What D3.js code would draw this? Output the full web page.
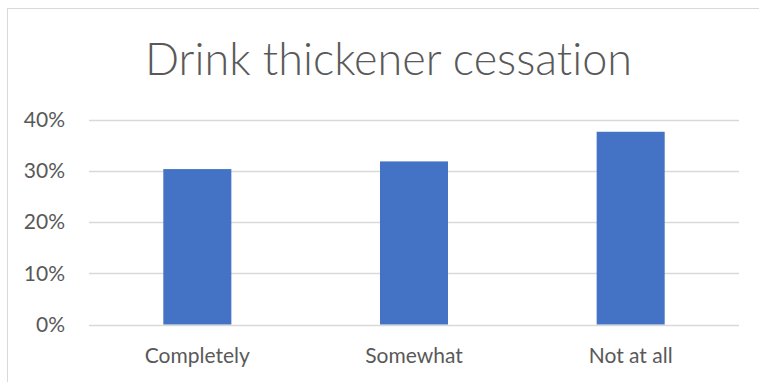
<!DOCTYPE html>
<html>
<head>
<meta charset="utf-8">
<script src="https://cdn.jsdelivr.net/npm/d3@7"></script>
<style>
  html, body { margin: 0; padding: 0; background: #fff; }
  svg { display: block; }
  text { font-family: "Lato", "Open Sans", sans-serif; fill: #595959; font-variant-ligatures: none; font-feature-settings: "liga" 0, "dlig" 0; }
</style>
</head>
<body>
<svg id="chart" width="759" height="382"></svg>
<script>
const categories = ["Completely", "Somewhat", "Not at all"];
const values = [0.304, 0.319, 0.377];
const yTicks = [0, 0.1, 0.2, 0.3, 0.4];
const title = "Drink thickener cessation";

const W = 759, H = 382;
const svg = d3.select("#chart");

// chart frame (extends past right and bottom edges)
svg.append("rect")
  .attr("x", 7.5).attr("y", 8.5)
  .attr("width", W).attr("height", H)
  .attr("fill", "#fff").attr("stroke", "#d9d9d9").attr("stroke-width", 1);

const plot = { left: 89, right: 739, top: 120, bottom: 324.5 };

const x = d3.scaleBand()
  .domain(categories)
  .range([plot.left, plot.right])
  .paddingInner(0.686)
  .paddingOuter(0.343);

const y = d3.scaleLinear()
  .domain([0, 0.4])
  .range([plot.bottom, plot.top]);

// gridlines
svg.append("g")
  .selectAll("line")
  .data(yTicks)
  .join("line")
  .attr("x1", plot.left).attr("x2", plot.right)
  .attr("y1", d => Math.round(y(d)) + 0.5)
  .attr("y2", d => Math.round(y(d)) + 0.5)
  .attr("stroke", "#d9d9d9").attr("stroke-width", 1.5);

// y axis labels
const yAxis = d3.axisLeft(y).tickValues(yTicks).tickFormat(d3.format(".0%")).tickSize(0).tickPadding(0);
const gy = svg.append("g").attr("transform", `translate(65,0)`).call(yAxis);
gy.select(".domain").remove();
gy.selectAll("text")
  .attr("font-size", 21)
  .attr("font-family", "Lato, 'Open Sans', sans-serif")
  .attr("fill", "#595959");

// bars
svg.append("g")
  .selectAll("rect")
  .data(values)
  .join("rect")
  .attr("x", (d, i) => x(categories[i]))
  .attr("width", x.bandwidth())
  .attr("y", d => y(d))
  .attr("height", d => y(0) - y(d))
  .attr("fill", "#4472c4");

// x axis labels
const xAxis = d3.axisBottom(x).tickSize(0).tickPadding(0);
const gx = svg.append("g").attr("transform", `translate(0,${plot.bottom})`).call(xAxis);
gx.select(".domain").remove();
gx.selectAll("text")
  .attr("dy", null)
  .attr("y", 38.5)
  .attr("font-size", 21)
  .attr("font-family", "Lato, 'Open Sans', sans-serif")
  .attr("fill", "#595959");

// title
svg.append("text")
  .attr("x", 388.5).attr("y", 75)
  .attr("text-anchor", "middle")
  .attr("font-size", 45)
  .attr("font-weight", 300)
  .attr("textLength", 487)
  .attr("lengthAdjust", "spacingAndGlyphs")
  .text(title);
</script>
</body>
</html>
